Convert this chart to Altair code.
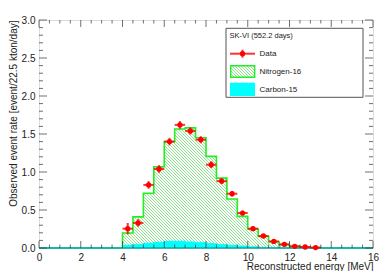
import altair as alt
import pandas as pd

# ---------------- data ----------------
bin_edges = [0.0, 0.5, 1.0, 1.5, 2.0, 2.5, 3.0, 3.5, 4.0, 4.5, 5.0, 5.5, 6.0, 6.5,
             7.0, 7.5, 8.0, 8.5, 9.0, 9.5, 10.0, 10.5, 11.0, 11.5, 12.0, 12.5,
             13.0, 13.5, 14.0, 14.5, 15.0, 15.5, 16.0]
n16_rate = [0, 0, 0, 0, 0, 0, 0, 0,
            0.197, 0.41, 0.72, 1.07, 1.40, 1.565, 1.58, 1.45, 1.205, 0.92,
            0.645, 0.416, 0.25, 0.153, 0.083, 0.045, 0.022, 0.010, 0.005,
            0, 0, 0, 0, 0]
c15_rate = [0, 0, 0, 0, 0, 0, 0, 0,
            0.035, 0.044, 0.061, 0.075, 0.088, 0.088, 0.079, 0.070, 0.057,
            0.044, 0.035, 0.026, 0.015, 0.008, 0.004,
            0, 0, 0, 0, 0, 0, 0, 0, 0]
data_energy = [4.25, 4.75, 5.25, 5.75, 6.25, 6.75, 7.25, 7.75, 8.25, 8.75,
               9.25, 9.75, 10.25, 10.75, 11.25, 11.75, 12.25, 12.75, 13.25]
data_rate = [0.254, 0.33, 0.83, 1.04, 1.40, 1.62, 1.54, 1.425, 1.096, 0.88,
             0.714, 0.46, 0.254, 0.158, 0.087, 0.048, 0.022, 0.013, 0.005]
data_err = [0.075, 0.05, 0.05, 0.05, 0.05, 0.05, 0.048, 0.047, 0.045, 0.04,
            0.035, 0.03, 0.025, 0.02, 0.015, 0.012, 0.01, 0.008, 0.005]
half_bin = 0.25

x_major = [0, 2, 4, 6, 8, 10, 12, 14, 16]
y_major = [0.0, 0.5, 1.0, 1.5, 2.0, 2.5, 3.0]
legend_title = "SK-VI (552.2 days)"
legend_labels = ["Data", "Nitrogen-16", "Carbon-15"]

# ---------------- layout / style ----------------
W, H = 334, 228
FONT = "Liberation Sans"
XMAX, YMAX = 16.0, 3.0
xs = alt.Scale(domain=[0, XMAX], nice=False, zero=False)
ys = alt.Scale(domain=[0, YMAX], nice=False, zero=False)
green = "#22ee22"
hatch_green = "#8fe58f"
cyan = "#00ffff"
red = "#ff0000"

xaxis = alt.Axis(values=x_major, format="d", ticks=False, domain=False, grid=False,
                 labelFont=FONT, labelFontSize=10, labelColor="#222", labelPadding=4,
                 labelFlush=False, labelOverlap=False,
                 title="Reconstructed energy [MeV]", titleFont=FONT, titleFontSize=10,
                 titleFontWeight="normal", titleColor="#222", titleAlign="right",
                 titleBaseline="middle", titleX=W, titleY=18.5)
yaxis = alt.Axis(values=y_major, format=".1f", ticks=False, domain=False, grid=False,
                 labelFont=FONT, labelFontSize=10, labelColor="#222", labelPadding=4,
                 labelFlush=False, labelOverlap=False,
                 title="Observed event rate [event/22.5 kton/day]", titleFont=FONT,
                 titleFontSize=10, titleFontWeight="normal", titleColor="#222",
                 titleAngle=270, titleAlign="right", titleBaseline="middle",
                 titleX=-25.5, titleY=0)

X = alt.X("x:Q", scale=xs, axis=xaxis)
Y = alt.Y("y:Q", scale=ys, axis=yaxis)


def hatch(w_px, h_px, period_px, line_frac, color):
    k = 1.3
    r = h_px / w_px
    dt = period_px / w_px / (k * (1 + r * r))
    stops = []
    a = 0.0
    while a < 1.0:
        b = min(a + dt * line_frac, 1.0)
        c = min(a + dt, 1.0)
        stops += [alt.GradientStop(offset=a, color=color),
                  alt.GradientStop(offset=b, color=color),
                  alt.GradientStop(offset=b, color="white"),
                  alt.GradientStop(offset=c, color="white")]
        a = c
    return alt.LinearGradient(gradient="linear", stops=stops,
                              x1=0, y1=1, x2=k, y2=1 - r * k)


# ---------------- frames ----------------
def step_frame(vals, lo=0, hi=None):
    hi = len(vals) if hi is None else hi
    xsv = bin_edges[lo:hi + 1]
    yv = vals[lo:hi] + [vals[hi - 1]]
    return pd.DataFrame({"x": xsv, "y": yv})


nz = [i for i, v in enumerate(n16_rate) if v > 0]
lo, hi = nz[0], nz[-1] + 1
n16_area_df = step_frame(n16_rate, lo, hi)
n16_line_df = step_frame(n16_rate)
c15_df = step_frame(c15_rate)

area_w = (bin_edges[hi] - bin_edges[lo]) / XMAX * W
area_h = max(n16_rate) / YMAX * H

pts = pd.DataFrame({"x": data_energy, "y": data_rate})
hbar = pd.DataFrame({"x": [e - half_bin for e in data_energy],
                     "x2": [e + half_bin for e in data_energy], "y": data_rate})
vbar = pd.DataFrame({"x": data_energy,
                     "y": [v - e for v, e in zip(data_rate, data_err)],
                     "y2": [v + e for v, e in zip(data_rate, data_err)]})

n16_area = alt.Chart(n16_area_df).mark_area(
    interpolate="step-after", fill=hatch(area_w, area_h, 3.0, 0.33, hatch_green)
).encode(x=X, y=Y)
n16_line = alt.Chart(n16_line_df).mark_line(
    interpolate="step-after", color=green, strokeWidth=1.6
).encode(x=X, y=Y)
c15_area = alt.Chart(c15_df).mark_area(
    interpolate="step-after", color=cyan, opacity=1
).encode(x=X, y=Y)
c15_line = alt.Chart(c15_df).mark_line(
    interpolate="step-after", color=cyan, strokeWidth=1
).encode(x=X, y=Y)
baseline = alt.Chart(pd.DataFrame({"x": [0.0], "x2": [XMAX], "y": [0.0]})).mark_rule(
    color="#14a5a5", strokeWidth=1.6).encode(x=X, x2="x2:Q", y=Y)

hrule = alt.Chart(hbar).mark_rule(color=red, strokeWidth=2, opacity=0.8).encode(
    x=X, x2="x2:Q", y=Y)
vrule = alt.Chart(vbar).mark_rule(color=red, strokeWidth=2, opacity=0.8).encode(
    x=X, y=Y, y2="y2:Q")
points = alt.Chart(pts).mark_circle(size=28, color=red, opacity=1).encode(x=X, y=Y)

# ---------------- inward ticks ----------------
x_minor = [e for e in bin_edges if e not in x_major]
y_minor = [round(i * 0.1, 1) for i in range(31)]
y_minor = [v for v in y_minor if v not in y_major]
tick_color = "#333"


def xticks(vals, length, top):
    df = pd.DataFrame({"x": vals})
    ypos = length / 2 if top else H - length / 2
    return alt.Chart(df).mark_tick(color=tick_color, thickness=1, size=length).encode(
        x=X, y=alt.value(ypos))


def yticks(vals, length, right):
    df = pd.DataFrame({"y": vals})
    xpos = W - length / 2 if right else length / 2
    return alt.Chart(df).mark_tick(color=tick_color, thickness=1, size=length).encode(
        y=Y, x=alt.value(xpos))


ticks = [xticks(x_major, 7, False), xticks(x_minor, 3.5, False),
         xticks(x_major, 7, True), xticks(x_minor, 3.5, True),
         yticks(y_major, 8, False), yticks(y_minor, 4, False),
         yticks(y_major, 8, True), yticks(y_minor, 4, True)]

# ---------------- legend ----------------
one = pd.DataFrame({"k": [0]})
lx0, lx1, ly0, ly1 = 187, 324, 8.3, 77.3
leg_box = alt.Chart(one).mark_rect(fill="white", stroke="#555", strokeWidth=1).encode(
    x=alt.value(lx0), x2=alt.value(lx1), y=alt.value(ly0), y2=alt.value(ly1))
leg_title = alt.Chart(one).mark_text(
    text=legend_title, font=FONT, fontSize=7.5, align="left", baseline="middle",
    color="#222").encode(x=alt.value(190.5), y=alt.value(16))
sx0, sx1, sxc = 191, 216, 203.5
row_y = [33.7, 51.5, 69.5]
leg_dh = alt.Chart(one).mark_rule(color=red, strokeWidth=2, opacity=0.8).encode(
    x=alt.value(sx0), x2=alt.value(sx1), y=alt.value(row_y[0]))
leg_dv = alt.Chart(one).mark_rule(color=red, strokeWidth=2, opacity=0.8).encode(
    x=alt.value(sxc), y=alt.value(row_y[0] - 4), y2=alt.value(row_y[0] + 4))
leg_dp = alt.Chart(one).mark_circle(size=28, color=red, opacity=1).encode(
    x=alt.value(sxc), y=alt.value(row_y[0]))
leg_n16 = alt.Chart(one).mark_rect(
    fill=hatch(24, 11.6, 3.0, 0.33, hatch_green), stroke=green, strokeWidth=1.4).encode(
    x=alt.value(191.7), x2=alt.value(215.7), y=alt.value(45.7), y2=alt.value(57.3))
leg_c15 = alt.Chart(one).mark_rect(fill=cyan).encode(
    x=alt.value(191), x2=alt.value(216), y=alt.value(62.7), y2=alt.value(76))
leg_text = alt.Chart(pd.DataFrame({"label": legend_labels, "ty": row_y})).mark_text(
    font=FONT, fontSize=8, align="left", baseline="middle", color="#222").encode(
    text="label:N", x=alt.value(220.5), y=alt.Y("ty:Q", scale=None, axis=None))

layers = [n16_area, n16_line, c15_area, c15_line, baseline, hrule, vrule, points] + ticks + [
    leg_box, leg_title, leg_dh, leg_dv, leg_dp, leg_n16, leg_c15, leg_text]

chart = alt.layer(*layers).properties(
    width=W, height=H,
    autosize=alt.AutoSizeParams(type="none"),
    padding={"left": 31, "top": 12, "right": 8, "bottom": 23},
).configure_view(stroke="#333", strokeWidth=1).configure(background="white")

chart.save("out.html", embed_options={"renderer": "svg", "actions": False})
